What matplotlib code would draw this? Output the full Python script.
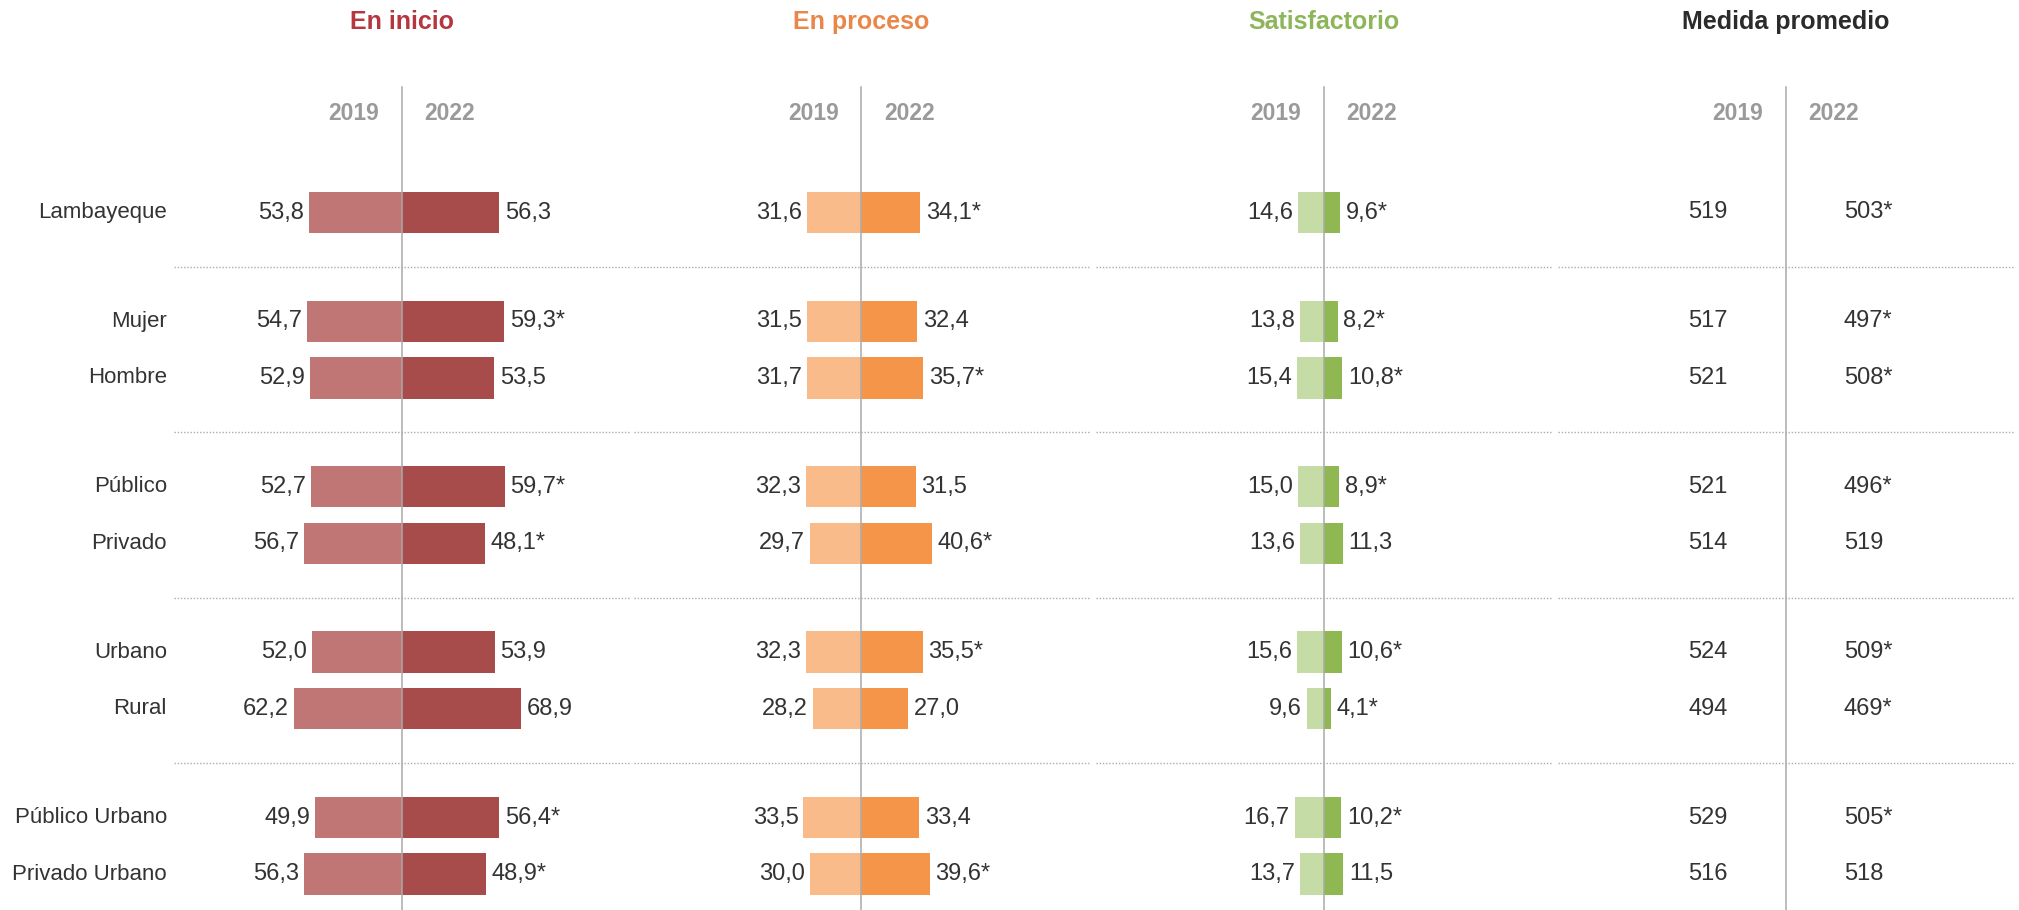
import matplotlib.pyplot as plt
import numpy as np

plt.rcParams["font.family"] = ["Liberation Sans", "DejaVu Sans"]

# ------------------------------------------
# Data

labels = [
    "Lambayeque",
    "Mujer",
    "Hombre",
    "Público",
    "Privado",
    "Urbano",
    "Rural",
    "Público Urbano",
    "Privado Urbano",
]
group_sizes = [1, 2, 2, 2, 2]

inicio_2019 = [53.8, 54.7, 52.9, 52.7, 56.7, 52.0, 62.2, 49.9, 56.3]
inicio_2022 = [56.3, 59.3, 53.5, 59.7, 48.1, 53.9, 68.9, 56.4, 48.9]
inicio_sig = [False, True, False, True, True, False, False, True, True]

proceso_2019 = [31.6, 31.5, 31.7, 32.3, 29.7, 32.3, 28.2, 33.5, 30.0]
proceso_2022 = [34.1, 32.4, 35.7, 31.5, 40.6, 35.5, 27.0, 33.4, 39.6]
proceso_sig = [True, False, True, False, True, True, False, False, True]

satisf_2019 = [14.6, 13.8, 15.4, 15.0, 13.6, 15.6, 9.6, 16.7, 13.7]
satisf_2022 = [9.6, 8.2, 10.8, 8.9, 11.3, 10.6, 4.1, 10.2, 11.5]
satisf_sig = [True, True, True, True, False, True, True, True, False]

medida_2019 = [519, 517, 521, 521, 514, 524, 494, 529, 516]
medida_2022 = [503, 497, 508, 496, 519, 509, 469, 505, 518]
medida_sig = [True, True, True, True, False, True, True, True, False]

years = ["2019", "2022"]

# ------------------------------------------
# Layout

W, H = 2019, 910
px_per_unit = 1.73
panel_w = 460
centers = [401.7, 861.4, 1323.6, 1785.9]
row_px = 56.65
first_row_px = 212.5
group_gap = 1.92

ypos = []
y = 0.0
for gi, n in enumerate(group_sizes):
    if gi > 0:
        y += group_gap
    for k in range(n):
        ypos.append(y + k)
    y += n - 1
ypos = np.array(ypos)

seps = []
idx = 0
for n in group_sizes[:-1]:
    idx += n
    seps.append((ypos[idx - 1] + ypos[idx]) / 2)

y_top = -first_row_px / row_px
y_bot = (H - first_row_px) / row_px
half = panel_w / 2 / px_per_unit

txt = "#333333"
grey_year = "#9a9a9a"
line_col = "#aaaaaa"


def fmt(v):
    return f"{v:.1f}".replace(".", ",")


fig = plt.figure(figsize=(W / 100, H / 100), dpi=100)

panels = [
    ("En inicio", "#b5363f", "#c17676", "#a74b4b", inicio_2019, inicio_2022, inicio_sig),
    ("En proceso", "#e9874a", "#f9bb8a", "#f4954a", proceso_2019, proceso_2022, proceso_sig),
    ("Satisfactorio", "#8db55a", "#c6dca6", "#8fb853", satisf_2019, satisf_2022, satisf_sig),
    ("Medida promedio", "#2b2b2b", None, None, medida_2019, medida_2022, medida_sig),
]

bar_h = 0.73
val_fs = 17

for i, (title, tcol, c19, c22, v19, v22, sig) in enumerate(panels):
    c = centers[i]
    ax = fig.add_axes([(c - panel_w / 2) / W, 0, panel_w / W, 1])
    ax.set_xlim(-half, half)
    ax.set_ylim(y_bot, y_top)
    ax.axis("off")

    ax.text(0, (22 - first_row_px) / row_px, title, color=tcol, fontsize=18,
            fontweight="bold", ha="center", va="center")
    yy = (113 - first_row_px) / row_px
    ax.text(-13.2, yy, years[0], color=grey_year, fontsize=16.5, fontweight="bold",
            ha="right", va="center")
    ax.text(13.2, yy, years[1], color=grey_year, fontsize=16.5, fontweight="bold",
            ha="left", va="center")

    ax.plot([0, 0], [(87.5 - first_row_px) / row_px, y_bot], color=line_col,
            lw=1.1, zorder=3)

    for s in seps:
        ax.plot([-half + 1.5, half - 1.5], [s, s], color="#adadad", lw=1.0,
                linestyle=(0, (1, 1.3)), zorder=1)

    if c19 is not None:
        ax.barh(ypos, [-v for v in v19], height=bar_h, color=c19, zorder=2)
        ax.barh(ypos, v22, height=bar_h, color=c22, zorder=2)
        for yv, a, b, s in zip(ypos, v19, v22, sig):
            ax.annotate(fmt(a), (-a, yv), xytext=(-3.5, 0), textcoords="offset points",
                        ha="right", va="center", fontsize=val_fs, color=txt)
            ax.annotate(fmt(b) + ("*" if s else ""), (b, yv), xytext=(4, 0),
                        textcoords="offset points", ha="left", va="center",
                        fontsize=val_fs, color=txt)
    else:
        for yv, a, b, s in zip(ypos, v19, v22, sig):
            ax.text(-33.5, yv, str(a), ha="right", va="center", fontsize=val_fs, color=txt)
            ax.text(33.5, yv, str(b) + ("*" if s else ""), ha="left", va="center",
                    fontsize=val_fs, color=txt)

    if i == 0:
        for yv, lab in zip(ypos, labels):
            ax.text((167 - c) / px_per_unit, yv, lab, ha="right", va="center",
                    fontsize=16, color=txt, clip_on=False)

fig.savefig("out.png", dpi=100, facecolor="white")
